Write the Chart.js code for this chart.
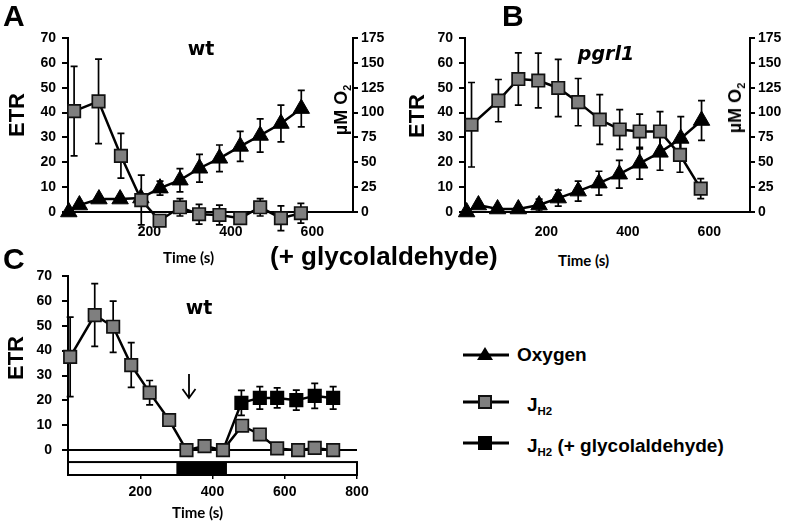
<!DOCTYPE html>
<html>
<head>
<meta charset="utf-8">
<script src="https://cdn.jsdelivr.net/npm/chart.js@4.4.1/dist/chart.umd.min.js"></script>
<style>
  body { margin: 0; width: 793px; height: 525px; background: #fff; position: relative; overflow: hidden;
         font-family: "Liberation Sans", Arial, sans-serif; font-weight: bold; color: #000; }
  canvas { position: absolute; }
  .t { position: absolute; line-height: 1; white-space: nowrap; }
  .rot { position: absolute; line-height: 1; white-space: nowrap; transform: translate(-50%, -50%) rotate(-90deg); }
  .time { font-family: Lato, "Open Sans", sans-serif; font-size: 15px; }
  .ttl { font-family: "DejaVu Sans", sans-serif; font-size: 19px; text-align: center; width: 100px; }
  .leg { position: absolute; left: 462px; }
  .leg svg { position: absolute; left: 0; top: -10px; }
  .leg span { position: absolute; font-size: 19px; line-height: 1; white-space: nowrap; }
  sub { font-size: 60%; vertical-align: -0.35em; line-height: 0; }
</style>
</head>
<body>
<canvas id="chartA" width="400" height="240" style="left:0;top:0"></canvas>
<canvas id="chartB" width="393" height="240" style="left:400px;top:0"></canvas>
<canvas id="chartC" width="400" height="255" style="left:0;top:255px"></canvas>

<div class="t" style="left:3px;top:1px;font-size:30px">A</div>
<div class="t" style="left:502px;top:1px;font-size:30px">B</div>
<div class="t" style="left:3px;top:244px;font-size:30px">C</div>

<div class="t ttl" style="left:151px;top:39px">wt</div>
<div class="t ttl" style="left:556px;top:44px;font-style:italic">pgrl1</div>
<div class="t ttl" style="left:149px;top:298px">wt</div>

<div class="rot" style="left:17px;top:115px;font-size:22px">ETR</div>
<div class="rot" style="left:417px;top:116px;font-size:22px">ETR</div>
<div class="rot" style="left:16px;top:358px;font-size:22px">ETR</div>
<div class="rot" style="left:341px;top:110px;font-size:18px">µM O<sub>2</sub></div>
<div class="rot" style="left:735px;top:108px;font-size:18px">µM O<sub>2</sub></div>

<div class="t time" style="left:163px;top:250px">Time (s)</div>
<div class="t time" style="left:558px;top:253px">Time (s)</div>
<div class="t time" style="left:172px;top:505px">Time (s)</div>

<div class="t" style="left:270px;top:243px;font-size:26px">(+ glycolaldehyde)</div>

<svg style="position:absolute;left:181px;top:372px" width="16" height="30">
  <path d="M8 2 L8 26 M1.5 17 L8 26 L14.5 17" stroke="#000" stroke-width="1.8" fill="none"/>
</svg>

<div class="leg" style="top:355px">
  <svg width="50" height="20"><line x1="1" y1="10" x2="47" y2="10" stroke="#000" stroke-width="3"/>
    <polygon points="23,2 31,15 15,15" fill="#000"/></svg>
  <span style="left:55px;top:-10px">Oxygen</span>
</div>
<div class="leg" style="top:402px">
  <svg width="50" height="20"><line x1="1" y1="10" x2="47" y2="10" stroke="#000" stroke-width="3"/>
    <rect x="17" y="4" width="12" height="12" fill="#7f7f7f" stroke="#111" stroke-width="2"/></svg>
  <span style="left:65px;top:-7px">J<sub>H2</sub></span>
</div>
<div class="leg" style="top:443px">
  <svg width="50" height="20"><line x1="1" y1="10" x2="47" y2="10" stroke="#000" stroke-width="3"/>
    <rect x="17" y="4" width="12" height="12" fill="#000" stroke="#000" stroke-width="2"/></svg>
  <span style="left:65px;top:-7px">J<sub>H2</sub> (+ glycolaldehyde)</span>
</div>

<script>
// ---- panel A (wt) ----
const aH2Time = [15, 75, 130, 180, 225, 275, 322, 372, 423, 472, 523, 572];
const aH2 = [40.6, 44.5, 22.6, 4.8, -3.5, 1.9, -0.9, -1.2, -2.5, 1.9, -2.5, -0.5];
const aH2Err = [18, 17, 9, 10, 2, 3.5, 4, 4, 2, 3.5, 5, 4];
const aO2Time = [2, 28, 76, 128, 179, 226, 275, 323, 372, 423, 472, 523, 573];
const aO2 = [0, 7, 13, 13, 14, 24, 32, 44, 54, 66, 77, 89, 104];
const aO2Err = [0, 2, 2, 2, 2, 7, 11.7, 14, 13.4, 15, 16.7, 18.4, 18.4];

// ---- panel B (pgrl1) ----
const bH2Time = [16, 82, 131, 180, 229, 278, 331, 380, 429, 479, 528, 579];
const bH2 = [35.1, 44.8, 53.5, 52.9, 49.9, 44.2, 37.2, 33.2, 32.4, 32.4, 23, 9.4];
const bH2Err = [17, 8.5, 10.5, 11, 11.5, 9.5, 10, 8, 7, 8, 7, 4];
const bO2Time = [4, 33, 80, 131, 182, 229, 278, 329, 379, 429, 479, 530, 581];
const bO2 = [0, 7, 3, 3, 7, 14, 21, 29, 38, 49, 60, 74, 92];
const bO2Err = [0, 1, 1, 1, 6, 8, 10, 12, 14, 16, 18, 22, 20];

// ---- panel C (wt, glycolaldehyde added) ----
const cH2Time = [6, 74, 125, 175, 226, 280, 328, 378, 429, 482, 531, 579, 637, 683, 734];
const cH2 = [37.5, 54.3, 49.6, 34.2, 23.1, 12.1, 0, 1.6, 0, 9.8, 6.3, 0.7, 0, 0.9, 0];
const cH2Err = [16, 12.6, 10.3, 9, 4.9, 0, 0, 0, 0, 0, 0, 0, 0, 0, 0];
const cGlyTime = [429, 480, 531, 579, 632, 683, 734];
const cGly = [0, 19, 21, 21, 20.1, 21.8, 21];
const cGlyErr = [0, 5, 4.5, 4, 4, 5, 4.5];
const darkPeriod = [300, 440];

const xTicksAB = [200, 400, 600];
const xTicksC = [200, 400, 600, 800];

Chart.defaults.color = "#000";
Chart.defaults.font.family = '"Liberation Sans", Arial, sans-serif';
Chart.defaults.font.weight = "bold";
Chart.defaults.font.size = 14;

const pts = (xs, ys) => xs.map((x, i) => ({ x: x, y: ys[i] }));

// vertical error bars, drawn under the markers
const errorBars = {
  id: "errorBars",
  beforeDatasetsDraw(chart) {
    const ctx = chart.ctx;
    chart.data.datasets.forEach((ds, i) => {
      if (!ds.errors) return;
      const meta = chart.getDatasetMeta(i);
      const ys = chart.scales[meta.yAxisID];
      ctx.save();
      ctx.strokeStyle = "#000";
      ctx.lineWidth = 1.7;
      meta.data.forEach((p, j) => {
        const e = ds.errors[j];
        if (!e) return;
        const v = ds.data[j].y;
        const top = ys.getPixelForValue(v + e);
        const bot = ys.getPixelForValue(v - e);
        ctx.beginPath();
        ctx.moveTo(p.x, top); ctx.lineTo(p.x, bot);
        ctx.moveTo(p.x - 3.5, top); ctx.lineTo(p.x + 3.5, top);
        ctx.moveTo(p.x - 3.5, bot); ctx.lineTo(p.x + 3.5, bot);
        ctx.stroke();
      });
      ctx.restore();
    });
  }
};

// light / dark bar under panel C
const lightBar = {
  id: "lightBar",
  beforeDatasetsDraw(chart, args, opts) {
    if (!opts.dark) return;
    const ctx = chart.ctx, x = chart.scales.x, y = chart.scales.y;
    const l = x.getPixelForValue(0), r = x.getPixelForValue(800);
    const t = y.getPixelForValue(-4.8), b = y.getPixelForValue(-10);
    ctx.save();
    ctx.fillStyle = "#fff";
    ctx.fillRect(l, t, r - l, b - t);
    ctx.fillStyle = "#000";
    const d0 = x.getPixelForValue(opts.dark[0]), d1 = x.getPixelForValue(opts.dark[1]);
    ctx.fillRect(d0, t, d1 - d0, b - t);
    ctx.strokeStyle = "#000";
    ctx.lineWidth = 2;
    ctx.strokeRect(l, t, r - l, b - t);
    ctx.restore();
  }
};

function h2Set(data, err, fill) {
  return {
    data: data, errors: err, yAxisID: "y", clip: false,
    borderColor: "#000", borderWidth: 2.5,
    pointStyle: "rect", pointRadius: 8.8, pointBorderWidth: 1.7,
    pointBackgroundColor: fill, pointBorderColor: "#111"
  };
}

function o2Set(data, err) {
  return {
    data: data, errors: err, yAxisID: "y2", clip: false,
    borderColor: "#000", borderWidth: 2.5,
    pointStyle: "triangle", pointRadius: 9.5, pointBorderWidth: 1,
    pointBackgroundColor: "#000", pointBorderColor: "#000"
  };
}

function topPanel(id, h2, o2, leftW, rightW) {
  return new Chart(document.getElementById(id), {
    type: "line",
    data: { datasets: [h2, o2] },
    plugins: [errorBars],
    options: {
      responsive: false, animation: false,
      layout: { padding: { top: 38, left: 0, right: 0, bottom: 0 } },
      plugins: { legend: { display: false }, tooltip: { enabled: false } },
      scales: {
        x: {
          type: "linear", min: 0, max: 700,
          afterBuildTicks: (s) => { s.ticks = xTicksAB.map((v) => ({ value: v })); },
          afterFit: (s) => { s.height = 28; },
          grid: { display: false, drawTicks: false },
          border: { color: "#000", width: 2 },
          ticks: { padding: 12 }
        },
        y: {
          min: 0, max: 70,
          afterFit: (s) => { s.width = leftW; },
          grid: { drawOnChartArea: false, color: "#000", lineWidth: 2, tickLength: 6 },
          border: { color: "#000", width: 2 },
          ticks: { stepSize: 10, padding: 6 }
        },
        y2: {
          position: "right", min: 0, max: 175,
          afterFit: (s) => { s.width = rightW; },
          grid: { drawOnChartArea: false, color: "#000", lineWidth: 2, tickLength: 5 },
          border: { color: "#000", width: 2 },
          ticks: { stepSize: 25, padding: 3 }
        }
      }
    }
  });
}

topPanel("chartA", h2Set(pts(aH2Time, aH2), aH2Err, "#7f7f7f"), o2Set(pts(aO2Time, aO2), aO2Err), 68, 47);
topPanel("chartB", h2Set(pts(bH2Time, bH2), bH2Err, "#7f7f7f"), o2Set(pts(bO2Time, bO2), bO2Err), 65, 43);

const glySet = h2Set(pts(cGlyTime, cGly), cGlyErr, "#000");
glySet.pointRadius = (c) => (c.dataIndex === 0 ? 0 : 8.8);
glySet.pointBorderColor = "#000";

new Chart(document.getElementById("chartC"), {
  type: "line",
  data: { datasets: [h2Set(pts(cH2Time, cH2), cH2Err, "#7f7f7f"), glySet] },
  plugins: [lightBar, errorBars],
  options: {
    responsive: false, animation: false,
    layout: { padding: { top: 21, left: 0, right: 43, bottom: 0 } },
    plugins: { legend: { display: false }, tooltip: { enabled: false }, lightBar: { dark: darkPeriod } },
    scales: {
      x: {
        type: "linear", min: 0, max: 800,
        afterBuildTicks: (s) => { s.ticks = xTicksC.map((v) => ({ value: v })); },
        afterFit: (s) => { s.height = 35; },
        grid: { drawOnChartArea: false, color: "#000", lineWidth: 1.5, tickLength: 4 },
        border: { color: "#000", width: 2 },
        ticks: { padding: 5 }
      },
      y: {
        min: -10, max: 70,
        afterFit: (s) => { s.width = 68; },
        grid: {
          color: (c) => (c.tick && c.tick.value === 0 ? "#000" : "rgba(0,0,0,0)"),
          tickColor: (c) => (c.tick && c.tick.value < 0 ? "rgba(0,0,0,0)" : "#000"),
          lineWidth: 2, tickLength: 6
        },
        border: { color: "#000", width: 2 },
        ticks: { stepSize: 10, padding: 10, callback: (v) => (v < 0 ? "" : v) }
      }
    }
  }
});
</script>
</body>
</html>
